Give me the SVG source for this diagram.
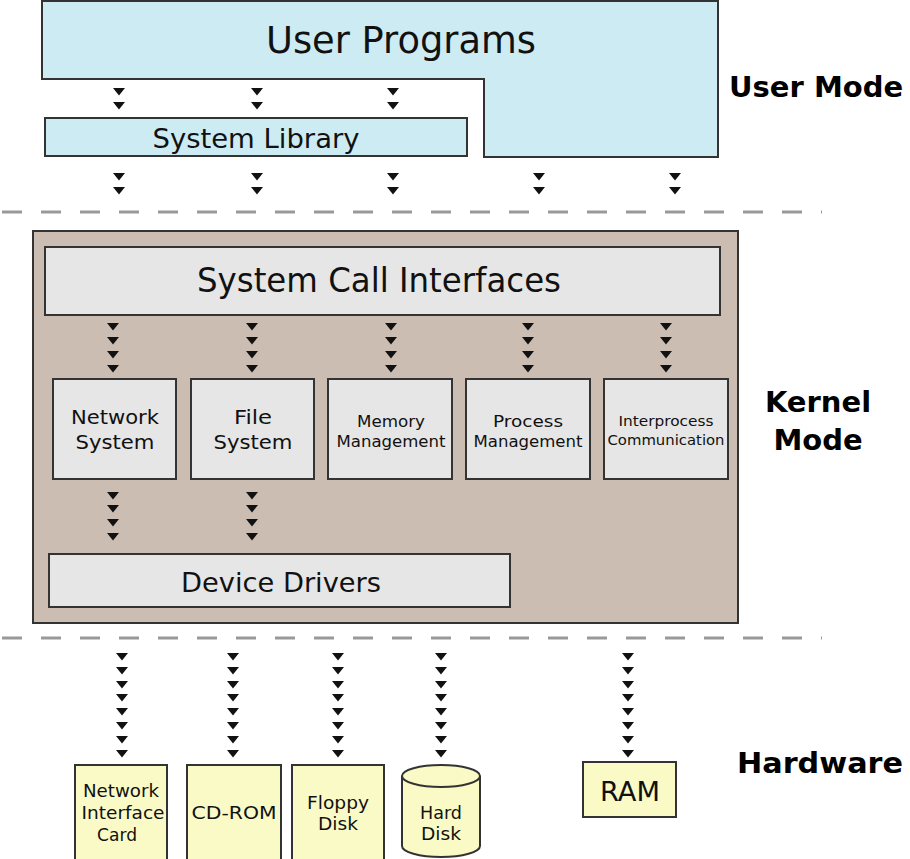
<svg xmlns="http://www.w3.org/2000/svg" xmlns:xlink="http://www.w3.org/1999/xlink" width="910" height="859" viewBox="0 0 910 859">
<style>
text{font-family:"DejaVu Sans","Liberation Sans",sans-serif;fill:#111;text-anchor:middle}
.lbl{font-weight:bold;fill:#000}
.blue{fill:#cdebf3;stroke:#333;stroke-width:2}
.kern{fill:#cbbdb2;stroke:#333;stroke-width:2}
.gray{fill:#e6e6e6;stroke:#333;stroke-width:2}
.hw{fill:#fafac6;stroke:#333;stroke-width:2}
.sep{stroke:#999;stroke-width:3;stroke-dasharray:20 19;fill:none}
.tri{fill:#111}
</style>
<defs>
<path id="t" class="tri" d="M-6,0 h12 l-6,7.5 z"/>
</defs>

<g id="separators">
<line class="sep" x1="2" y1="212" x2="822" y2="212"/>
<line class="sep" x1="2" y1="638" x2="822" y2="638"/>
</g>

<g id="mode-labels">
<text class="lbl" x="729" y="97" font-size="29" style="text-anchor:start">User Mode</text>
<text class="lbl" x="818" y="412" font-size="29">Kernel</text>
<text class="lbl" x="818" y="450" font-size="29">Mode</text>
<text class="lbl" x="820" y="773" font-size="29" textLength="166" lengthAdjust="spacingAndGlyphs">Hardware</text>
</g>

<g id="user-programs">
<path class="blue" d="M42,1 H718 V157 H484 V79 H42 Z"/>
<text x="401" y="53" font-size="37" textLength="270" lengthAdjust="spacingAndGlyphs">User Programs</text>
</g>

<g id="system-library">
<rect class="blue" x="45" y="118" width="422" height="38"/>
<text x="256" y="148" font-size="27" textLength="207" lengthAdjust="spacingAndGlyphs">System Library</text>
</g>

<g id="kernel">
<rect class="kern" x="33" y="231" width="705" height="392"/>
</g>

<g id="system-call-interfaces">
<rect class="gray" x="45" y="247" width="675" height="68"/>
<text x="379" y="292" font-size="33" textLength="364" lengthAdjust="spacingAndGlyphs">System Call Interfaces</text>
</g>

<g id="network-system">
<rect class="gray" x="53" y="379" width="123" height="100"/>
<text x="115" y="424" font-size="20" textLength="88" lengthAdjust="spacingAndGlyphs">Network</text>
<text x="115" y="449" font-size="20" textLength="79" lengthAdjust="spacingAndGlyphs">System</text>
</g>

<g id="file-system">
<rect class="gray" x="191" y="379" width="123" height="100"/>
<text x="253" y="424" font-size="20" textLength="38" lengthAdjust="spacingAndGlyphs">File</text>
<text x="253" y="449" font-size="20" textLength="79" lengthAdjust="spacingAndGlyphs">System</text>
</g>

<g id="memory-management">
<rect class="gray" x="328" y="379" width="124" height="100"/>
<text x="391" y="427" font-size="16" textLength="68" lengthAdjust="spacingAndGlyphs">Memory</text>
<text x="391" y="447" font-size="16" textLength="109" lengthAdjust="spacingAndGlyphs">Management</text>
</g>

<g id="process-management">
<rect class="gray" x="466" y="379" width="124" height="100"/>
<text x="528" y="427" font-size="16" textLength="70" lengthAdjust="spacingAndGlyphs">Process</text>
<text x="528" y="447" font-size="16" textLength="109" lengthAdjust="spacingAndGlyphs">Management</text>
</g>

<g id="interprocess-communication">
<rect class="gray" x="604" y="379" width="124" height="100"/>
<text x="666" y="426" font-size="14.5" textLength="95" lengthAdjust="spacingAndGlyphs">Interprocess</text>
<text x="666" y="445" font-size="14.5" textLength="117" lengthAdjust="spacingAndGlyphs">Communication</text>
</g>

<g id="device-drivers">
<rect class="gray" x="49" y="554" width="461" height="53"/>
<text x="281" y="592" font-size="27" textLength="200" lengthAdjust="spacingAndGlyphs">Device Drivers</text>
</g>

<g id="network-interface-card">
<rect class="hw" x="75" y="765" width="92" height="110"/>
<text x="121" y="797" font-size="18" textLength="76" lengthAdjust="spacingAndGlyphs">Network</text>
<text x="123" y="819" font-size="18" textLength="83" lengthAdjust="spacingAndGlyphs">Interface</text>
<text x="117" y="841" font-size="18" textLength="40" lengthAdjust="spacingAndGlyphs">Card</text>
</g>

<g id="cd-rom">
<rect class="hw" x="187" y="765" width="94" height="110"/>
<text x="234" y="819" font-size="18" textLength="85" lengthAdjust="spacingAndGlyphs">CD-ROM</text>
</g>

<g id="floppy-disk">
<rect class="hw" x="292" y="765" width="92" height="110"/>
<text x="338" y="809" font-size="18" textLength="62" lengthAdjust="spacingAndGlyphs">Floppy</text>
<text x="338" y="830" font-size="18" textLength="40" lengthAdjust="spacingAndGlyphs">Disk</text>
</g>

<g id="hard-disk">
<path class="hw" d="M402,776 V846 A39,11 0 0 0 480,846 V776 A39,11 0 0 0 402,776 Z"/>
<path class="hw" style="fill:none" d="M402,776 A39,11 0 0 0 480,776"/>
<text x="441" y="819" font-size="18" textLength="42" lengthAdjust="spacingAndGlyphs">Hard</text>
<text x="441" y="840" font-size="18" textLength="40" lengthAdjust="spacingAndGlyphs">Disk</text>
</g>

<g id="ram">
<rect class="hw" x="583" y="762" width="93" height="55"/>
<text x="630" y="801" font-size="26" textLength="60" lengthAdjust="spacingAndGlyphs">RAM</text>
</g>

<g id="connectors">
<use xlink:href="#t" x="119" y="88"/><use xlink:href="#t" x="119" y="102"/>
<use xlink:href="#t" x="257" y="88"/><use xlink:href="#t" x="257" y="102"/>
<use xlink:href="#t" x="393" y="88"/><use xlink:href="#t" x="393" y="102"/>

<use xlink:href="#t" x="119" y="173"/><use xlink:href="#t" x="119" y="187"/>
<use xlink:href="#t" x="257" y="173"/><use xlink:href="#t" x="257" y="187"/>
<use xlink:href="#t" x="393" y="173"/><use xlink:href="#t" x="393" y="187"/>
<use xlink:href="#t" x="539" y="173"/><use xlink:href="#t" x="539" y="187"/>
<use xlink:href="#t" x="675" y="173"/><use xlink:href="#t" x="675" y="187"/>

<use xlink:href="#t" x="113" y="323"/><use xlink:href="#t" x="113" y="337"/><use xlink:href="#t" x="113" y="351"/><use xlink:href="#t" x="113" y="365"/>
<use xlink:href="#t" x="252" y="323"/><use xlink:href="#t" x="252" y="337"/><use xlink:href="#t" x="252" y="351"/><use xlink:href="#t" x="252" y="365"/>
<use xlink:href="#t" x="391" y="323"/><use xlink:href="#t" x="391" y="337"/><use xlink:href="#t" x="391" y="351"/><use xlink:href="#t" x="391" y="365"/>
<use xlink:href="#t" x="528" y="323"/><use xlink:href="#t" x="528" y="337"/><use xlink:href="#t" x="528" y="351"/><use xlink:href="#t" x="528" y="365"/>
<use xlink:href="#t" x="666" y="323"/><use xlink:href="#t" x="666" y="337"/><use xlink:href="#t" x="666" y="351"/><use xlink:href="#t" x="666" y="365"/>

<use xlink:href="#t" x="113" y="492"/><use xlink:href="#t" x="113" y="505"/><use xlink:href="#t" x="113" y="519"/><use xlink:href="#t" x="113" y="533"/>
<use xlink:href="#t" x="252" y="492"/><use xlink:href="#t" x="252" y="505"/><use xlink:href="#t" x="252" y="519"/><use xlink:href="#t" x="252" y="533"/>

<use xlink:href="#t" x="122" y="653"/><use xlink:href="#t" x="122" y="667"/><use xlink:href="#t" x="122" y="681"/><use xlink:href="#t" x="122" y="694"/><use xlink:href="#t" x="122" y="708"/><use xlink:href="#t" x="122" y="722"/><use xlink:href="#t" x="122" y="736"/><use xlink:href="#t" x="122" y="750"/>
<use xlink:href="#t" x="233" y="653"/><use xlink:href="#t" x="233" y="667"/><use xlink:href="#t" x="233" y="681"/><use xlink:href="#t" x="233" y="694"/><use xlink:href="#t" x="233" y="708"/><use xlink:href="#t" x="233" y="722"/><use xlink:href="#t" x="233" y="736"/><use xlink:href="#t" x="233" y="750"/>
<use xlink:href="#t" x="338" y="653"/><use xlink:href="#t" x="338" y="667"/><use xlink:href="#t" x="338" y="681"/><use xlink:href="#t" x="338" y="694"/><use xlink:href="#t" x="338" y="708"/><use xlink:href="#t" x="338" y="722"/><use xlink:href="#t" x="338" y="736"/><use xlink:href="#t" x="338" y="750"/>
<use xlink:href="#t" x="441" y="653"/><use xlink:href="#t" x="441" y="667"/><use xlink:href="#t" x="441" y="681"/><use xlink:href="#t" x="441" y="694"/><use xlink:href="#t" x="441" y="708"/><use xlink:href="#t" x="441" y="722"/><use xlink:href="#t" x="441" y="736"/><use xlink:href="#t" x="441" y="750"/>
<use xlink:href="#t" x="628" y="653"/><use xlink:href="#t" x="628" y="667"/><use xlink:href="#t" x="628" y="681"/><use xlink:href="#t" x="628" y="694"/><use xlink:href="#t" x="628" y="708"/><use xlink:href="#t" x="628" y="722"/><use xlink:href="#t" x="628" y="736"/><use xlink:href="#t" x="628" y="750"/>
</g>
</svg>
